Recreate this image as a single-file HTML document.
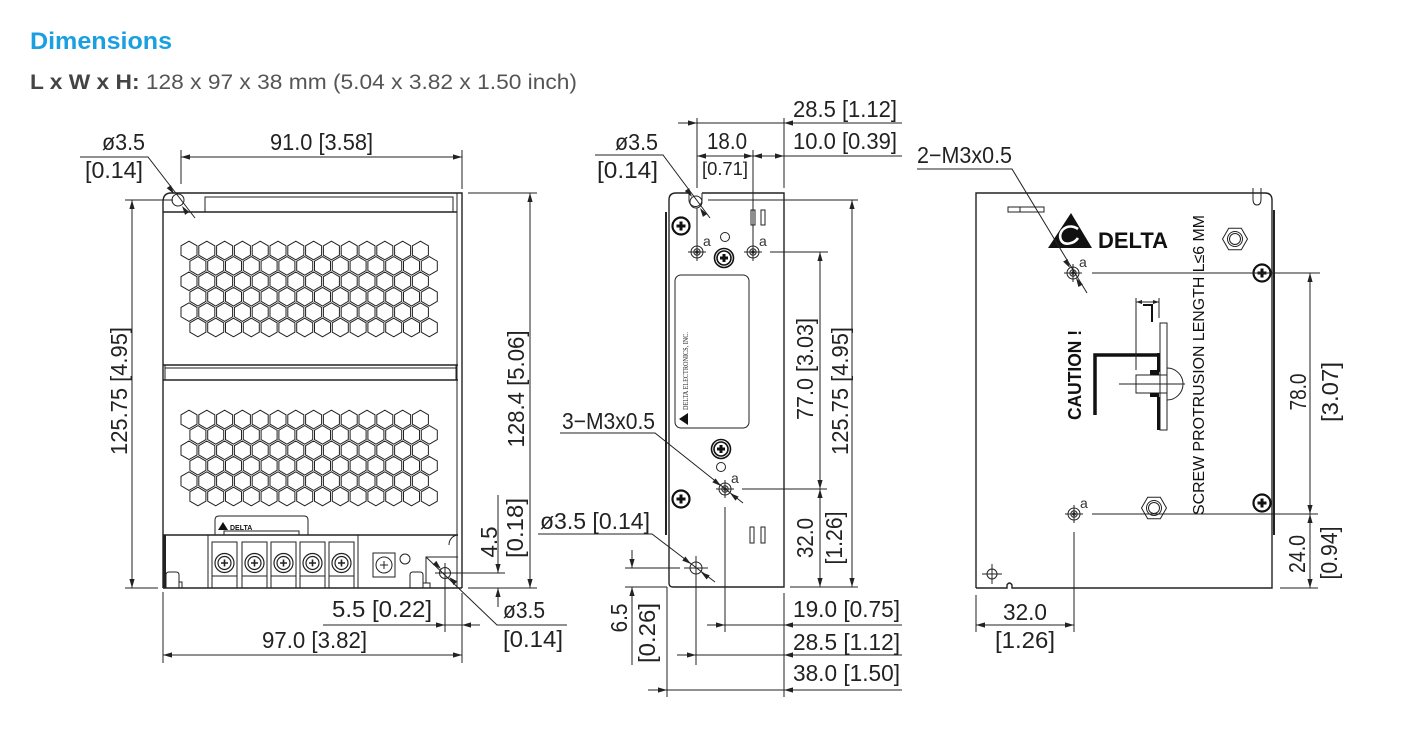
<!DOCTYPE html>
<html><head><meta charset="utf-8"><style>
html,body{margin:0;padding:0;background:#fff;width:1421px;height:743px;overflow:hidden}
svg{display:block}
.t{font-family:"Liberation Sans",sans-serif;font-size:23px;fill:#222}
.l{stroke:#222;stroke-width:1;fill:none}
.o{stroke:#222;stroke-width:1.4;fill:none}
.k{stroke:#111;stroke-width:3.5;fill:none}
</style></head><body>
<svg width="1421" height="743" viewBox="0 0 1421 743" xmlns="http://www.w3.org/2000/svg">
<defs>
<path id="hr" fill="none" stroke="#222" stroke-width="1" d="M0,-9.3l8,4.65v9.3l-8,4.65l-8,-4.65v-9.3zm17.8,0l8,4.65v9.3l-8,4.65l-8,-4.65v-9.3zm17.8,0l8,4.65v9.3l-8,4.65l-8,-4.65v-9.3zm17.8,0l8,4.65v9.3l-8,4.65l-8,-4.65v-9.3zm17.8,0l8,4.65v9.3l-8,4.65l-8,-4.65v-9.3zm17.8,0l8,4.65v9.3l-8,4.65l-8,-4.65v-9.3zm17.8,0l8,4.65v9.3l-8,4.65l-8,-4.65v-9.3zm17.8,0l8,4.65v9.3l-8,4.65l-8,-4.65v-9.3zm17.8,0l8,4.65v9.3l-8,4.65l-8,-4.65v-9.3zm17.8,0l8,4.65v9.3l-8,4.65l-8,-4.65v-9.3zm17.8,0l8,4.65v9.3l-8,4.65l-8,-4.65v-9.3zm17.8,0l8,4.65v9.3l-8,4.65l-8,-4.65v-9.3zm17.8,0l8,4.65v9.3l-8,4.65l-8,-4.65v-9.3zm17.8,0l8,4.65v9.3l-8,4.65l-8,-4.65v-9.3z"/>
<g id="sc"><circle r="8.5" fill="#fff" stroke="#111" stroke-width="2.2"/><path d="M-4.5,0H4.5M0,-4.5V4.5" stroke="#111" stroke-width="3"/></g>
<g id="sc2"><circle r="9.5" fill="#fff" stroke="#111" stroke-width="1.6"/><circle r="7" fill="none" stroke="#111" stroke-width="1.6"/><path d="M-4,0H4M0,-4V4" stroke="#111" stroke-width="3"/></g>
<g id="th" fill="none" stroke="#222" stroke-width="1"><circle r="6"/><circle r="3.2"/><circle r="1.3"/><path d="M-9,0H9M0,-9V9"/></g>
<g id="ts" fill="none" stroke="#222"><circle r="9.5" stroke-width="1.2"/><circle r="6.5" stroke-width="1.2"/><path d="M-3.5,0H3.5M0,-3.5V3.5" stroke-width="1.6"/></g>
<path id="ar" d="M0,0L-9,-2.6L-9,2.6Z" fill="#222"/>
<path id="as" d="M0,0L-6,-2L-6,2Z" fill="#222"/>
</defs>

<!-- Header -->
<text x="30" y="49" style="font-family:'Liberation Sans',sans-serif;font-size:24px;font-weight:bold;fill:#1a9fe0" textLength="142" lengthAdjust="spacingAndGlyphs">Dimensions</text>
<text x="30" y="89" style="font-family:'Liberation Sans',sans-serif;font-size:21px;fill:#555" textLength="547" lengthAdjust="spacingAndGlyphs"><tspan style="font-weight:bold;fill:#444">L x W x H:</tspan> 128 x 97 x 38 mm (5.04 x 3.82 x 1.50 inch)</text>

<!-- ============ LEFT VIEW ============ -->
<g>
<path class="o" d="M163,588 V202 Q163,193 171,193 H462 V588"/>
<path class="l" d="M457,193 V588"/>
<path class="l" d="M205,212 V197 H453 V212"/>
<path class="o" d="M163,212 H457"/>
<circle cx="178" cy="200" r="6" class="l" fill="#fff"/>
<path class="o" d="M163,365 H458"/>
<path class="l" d="M165,368 H456 M165,365 V380 M456,365 V380"/>
<path class="o" d="M163,380 H458"/>
<use href="#hr" x="189" y="250.5"/>
<use href="#hr" x="197.9" y="265.9"/>
<use href="#hr" x="189" y="281.3"/>
<use href="#hr" x="197.9" y="296.7"/>
<use href="#hr" x="189" y="312.1"/>
<use href="#hr" x="197.9" y="327.5"/>
<use href="#hr" x="189" y="419.5"/>
<use href="#hr" x="197.9" y="434.9"/>
<use href="#hr" x="189" y="450.3"/>
<use href="#hr" x="197.9" y="465.7"/>
<use href="#hr" x="189" y="481.1"/>
<use href="#hr" x="197.9" y="496.5"/>
<path class="o" d="M163,535 H458"/>
<rect x="163" y="535" width="3" height="53" fill="#222"/>
<path class="o" d="M163,588 H462"/>
<path class="l" d="M215,535 V520 Q215,516 219,516 H304 Q308,516 308,520 V535"/>
<rect x="224" y="531" width="75" height="4" class="l"/>
<polygon points="218,530 228,530 223,522" fill="#111"/>
<text x="230" y="530" style="font-family:'Liberation Sans',sans-serif;font-size:7px;font-weight:bold;fill:#111">DELTA</text>
<rect x="208" y="535" width="150" height="53" class="l"/>
<g class="l">
<rect x="212" y="542" width="25" height="46"/><rect x="242" y="542" width="25" height="46"/><rect x="271" y="542" width="25" height="46"/><rect x="300" y="542" width="25" height="46"/><rect x="329" y="542" width="25" height="46"/>
<path d="M212,576 H237 M242,576 H267 M271,576 H296 M300,576 H325 M329,576 H354"/>
</g>
<use href="#ts" x="224.5" y="563"/><use href="#ts" x="254.5" y="563"/><use href="#ts" x="283.5" y="563"/><use href="#ts" x="312.5" y="563"/><use href="#ts" x="341.5" y="563"/>
<rect x="373" y="553" width="22" height="24" class="l"/>
<circle cx="384" cy="565" r="8" class="l"/>
<path class="l" d="M380,565 H388 M384,561 V569"/>
<circle cx="405" cy="559" r="5" class="l" stroke-width="1.4"/>
<path class="l" d="M166,588 V575 Q166,572 169,572 H176 Q179,572 179,575 V588 M179,582 H182 V588"/>
<path class="l" d="M410,588 V575 Q410,572 413,572 H420 Q423,572 423,575 V588 M423,583 H426"/>
<path class="l" d="M449,545 A10,10 0 0 1 457,535"/>
<path class="l" d="M458,557 H426 V583 H430 V588"/>
<circle cx="445" cy="573" r="5.5" class="l"/>
<path class="l" d="M435,573 H453 M445,563 V583"/>
</g>

<g class="l">
<path d="M181,150 V184 M462,150 V189"/>
<path d="M181,157 H462"/>
<path d="M80,157 H148 L195,218"/>
<path d="M125,200 H173 M125,588 H158"/>
<path d="M132,200 V588"/>
<path d="M468,193 H537 M468,588 H537"/>
<path d="M530,193 V588"/>
<path d="M453,573 H505"/>
<path d="M498,495 V573 M498,588 V607"/>
<path d="M445,583 V632 M462,593 V663 M163,592 V663"/>
<path d="M323,625 H480"/>
<path d="M163,655 H462"/>
<path d="M426,557 L497,625 H567"/>
</g>
<use href="#ar" transform="translate(181,157) rotate(180)"/>
<use href="#ar" transform="translate(462,157)"/>
<use href="#ar" transform="translate(174,194) rotate(55)"/>
<use href="#ar" transform="translate(182,206) rotate(235)"/>
<use href="#ar" transform="translate(132,200) rotate(-90)"/>
<use href="#ar" transform="translate(132,588) rotate(90)"/>
<use href="#ar" transform="translate(530,193) rotate(-90)"/>
<use href="#ar" transform="translate(530,588) rotate(90)"/>
<use href="#ar" transform="translate(498,573) rotate(90)"/>
<use href="#ar" transform="translate(498,588) rotate(-90)"/>
<use href="#ar" transform="translate(445,625)"/>
<use href="#ar" transform="translate(462,625) rotate(180)"/>
<use href="#ar" transform="translate(163,655) rotate(180)"/>
<use href="#ar" transform="translate(462,655)"/>
<use href="#ar" transform="translate(441,569) rotate(44)"/>
<use href="#ar" transform="translate(449,577) rotate(224)"/>

<g class="t">
<text x="102" y="150" textLength="43" lengthAdjust="spacingAndGlyphs">ø3.5</text>
<text x="85" y="178" textLength="58" lengthAdjust="spacingAndGlyphs">[0.14]</text>
<text x="270" y="150" textLength="103" lengthAdjust="spacingAndGlyphs">91.0 [3.58]</text>
<text transform="translate(127,391) rotate(-90)" text-anchor="middle" textLength="128" lengthAdjust="spacingAndGlyphs">125.75 [4.95]</text>
<text transform="translate(524,389) rotate(-90)" text-anchor="middle" textLength="117" lengthAdjust="spacingAndGlyphs">128.4 [5.06]</text>
<text transform="translate(497,542) rotate(-90)" text-anchor="middle" textLength="31" lengthAdjust="spacingAndGlyphs">4.5</text>
<text transform="translate(523,528) rotate(-90)" text-anchor="middle" textLength="60" lengthAdjust="spacingAndGlyphs">[0.18]</text>
<text x="332" y="617" textLength="100" lengthAdjust="spacingAndGlyphs">5.5 [0.22]</text>
<text x="262" y="648" textLength="105" lengthAdjust="spacingAndGlyphs">97.0 [3.82]</text>
<text x="503" y="618" textLength="42" lengthAdjust="spacingAndGlyphs">ø3.5</text>
<text x="503" y="647" textLength="60" lengthAdjust="spacingAndGlyphs">[0.14]</text>
</g>

<!-- ============ MIDDLE VIEW ============ -->
<g>
<path class="o" d="M669,200 V583 Q669,587 673,587 H784 V193 H702"/>
<path class="o" d="M689,193 H676 Q669,193 669,200"/>
<path class="l" d="M689,193 V200 A6,6 0 0 0 702,200 V193"/>
<circle cx="696" cy="202" r="6" class="l"/>
<rect x="665" y="212" width="2" height="323" fill="#222"/>
<rect x="675" y="275" width="74" height="153" rx="6" class="l"/>
<text transform="translate(688,410) rotate(-90)" textLength="78" lengthAdjust="spacingAndGlyphs" style="font-family:'Liberation Serif',serif;font-size:7px;fill:#222">DELTA ELECTRONICS, INC.</text>
<polygon points="679,419 688,413 688,425" fill="#111"/>
<rect x="751" y="210" width="4" height="15" class="l"/><rect x="761" y="210" width="4" height="15" class="l"/>
<rect x="750" y="527" width="4" height="16" class="l"/><rect x="761" y="527" width="4" height="16" class="l"/>
<use href="#sc" x="681" y="226"/>
<use href="#sc2" x="724" y="258"/>
<circle cx="725" cy="237" r="4.5" class="l" stroke-width="1.4"/>
<use href="#th" x="697" y="252"/>
<use href="#th" x="753" y="252"/>
<use href="#sc2" x="721" y="449"/>
<circle cx="721" cy="467" r="4.5" class="l" stroke-width="1.4"/>
<use href="#th" x="725" y="489"/>
<use href="#sc" x="681" y="499"/>
<circle cx="696" cy="568" r="6" class="l"/>
<path class="l" d="M684,568 H708 M696,556 V580"/>
</g>
<g style="font-family:'Liberation Sans',sans-serif;font-size:14px;fill:#333">
<text x="703" y="246">a</text><text x="759" y="246">a</text><text x="731" y="483">a</text>
</g>

<g class="l">
<path d="M678,123 H902"/>
<path d="M697,118 V188 M697,208 V243 M784,118 V188 M753,150 V243"/>
<path d="M697,156 H902"/>
<path d="M595,155 H663 L710,218"/>
<path d="M770,252 H828 M742,489 H827"/>
<path d="M820,252 V587"/>
<path d="M708,200 H858 M790,587 H858"/>
<path d="M852,200 V587"/>
<path d="M560,433 H655 L743,503"/>
<path d="M538,534 H652 L715,582"/>
<path d="M632,550 V568 M632,587 V665"/>
<path d="M625,568 H680 M625,587 H667"/>
<path d="M725,507 V632 M696,580 V665 M667,587 V697 M784,593 V697"/>
<path d="M707,625 H902 M677,655 H902 M648,690 H902"/>
</g>
<use href="#ar" transform="translate(697,123)"/>
<use href="#ar" transform="translate(784,123) rotate(180)"/>
<use href="#ar" transform="translate(697,156) rotate(180)"/>
<use href="#ar" transform="translate(753,156)"/>
<use href="#ar" transform="translate(753,156) rotate(180)"/>
<use href="#ar" transform="translate(784,156)"/>
<use href="#ar" transform="translate(692,197) rotate(56)"/>
<use href="#ar" transform="translate(700,208) rotate(236)"/>
<use href="#ar" transform="translate(820,252) rotate(-90)"/>
<use href="#ar" transform="translate(820,489) rotate(90)"/>
<use href="#ar" transform="translate(820,489) rotate(-90)"/>
<use href="#ar" transform="translate(820,587) rotate(90)"/>
<use href="#ar" transform="translate(852,200) rotate(-90)"/>
<use href="#ar" transform="translate(852,587) rotate(90)"/>
<use href="#ar" transform="translate(721,486) rotate(38.5)"/>
<use href="#ar" transform="translate(730,493) rotate(218.5)"/>
<use href="#ar" transform="translate(691,564) rotate(37)"/>
<use href="#ar" transform="translate(701,572) rotate(217)"/>
<use href="#ar" transform="translate(632,568) rotate(90)"/>
<use href="#ar" transform="translate(632,587) rotate(-90)"/>
<use href="#ar" transform="translate(725,625)"/>
<use href="#ar" transform="translate(784,625) rotate(180)"/>
<use href="#ar" transform="translate(696,655)"/>
<use href="#ar" transform="translate(784,655) rotate(180)"/>
<use href="#ar" transform="translate(667,690)"/>
<use href="#ar" transform="translate(784,690) rotate(180)"/>

<g class="t">
<text x="793" y="117" textLength="104" lengthAdjust="spacingAndGlyphs">28.5 [1.12]</text>
<text x="793" y="149" textLength="104" lengthAdjust="spacingAndGlyphs">10.0 [0.39]</text>
<text x="707" y="149" textLength="40" lengthAdjust="spacingAndGlyphs">18.0</text>
<text x="702" y="175" textLength="46" lengthAdjust="spacingAndGlyphs" style="font-size:18px">[0.71]</text>
<text x="615" y="150" textLength="43" lengthAdjust="spacingAndGlyphs">ø3.5</text>
<text x="597" y="178" textLength="61" lengthAdjust="spacingAndGlyphs">[0.14]</text>
<text transform="translate(813,369) rotate(-90)" text-anchor="middle" textLength="102" lengthAdjust="spacingAndGlyphs">77.0 [3.03]</text>
<text transform="translate(848,391) rotate(-90)" text-anchor="middle" textLength="128" lengthAdjust="spacingAndGlyphs">125.75 [4.95]</text>
<text transform="translate(813,538) rotate(-90)" text-anchor="middle" textLength="40" lengthAdjust="spacingAndGlyphs">32.0</text>
<text transform="translate(842,538) rotate(-90)" text-anchor="middle" textLength="53" lengthAdjust="spacingAndGlyphs">[1.26]</text>
<text x="562" y="429" textLength="93" lengthAdjust="spacingAndGlyphs">3−M3x0.5</text>
<text x="540" y="529" textLength="110" lengthAdjust="spacingAndGlyphs">ø3.5 [0.14]</text>
<text transform="translate(627,618) rotate(-90)" text-anchor="middle" textLength="29" lengthAdjust="spacingAndGlyphs">6.5</text>
<text transform="translate(655,633) rotate(-90)" text-anchor="middle" textLength="60" lengthAdjust="spacingAndGlyphs">[0.26]</text>
<text x="793" y="617" textLength="107" lengthAdjust="spacingAndGlyphs">19.0 [0.75]</text>
<text x="793" y="650" textLength="107" lengthAdjust="spacingAndGlyphs">28.5 [1.12]</text>
<text x="793" y="681" textLength="107" lengthAdjust="spacingAndGlyphs">38.0 [1.50]</text>
</g>

<!-- ============ RIGHT VIEW ============ -->
<g>
<path class="o" d="M976,588 V193 H1265 Q1272,193 1272,200 V588 H1012 V585 Q1009.5,581 1007,585 V588 H976"/>
<rect x="1273" y="210" width="2" height="325" fill="#222"/>
<path class="l" d="M1253,188 V199 Q1253,205 1257,205 Q1261,205 1261,199 V188"/>
<rect x="1008" y="207" width="36" height="5" class="l"/>
<path class="l" d="M1020,207 V212"/>
<polygon points="1048,248 1092,248 1071,213" fill="#111"/>
<path d="M1078,229 C1068,222 1057,231 1061,240 C1064,246 1074,244 1078,238" stroke="#fff" stroke-width="2.6" fill="none"/>
<text x="1098" y="248" textLength="70" lengthAdjust="spacingAndGlyphs" style="font-family:'Liberation Sans',sans-serif;font-size:22px;font-weight:bold;fill:#111">DELTA</text>
<polygon points="1222.5,239 1228.7,228.2 1241.3,228.2 1247.5,239 1241.3,249.8 1228.7,249.8" class="l"/>
<circle cx="1235" cy="239" r="7.5" class="l"/><circle cx="1235" cy="239" r="5.5" class="l"/>
<polygon points="1141.5,508 1147.7,497.2 1160.3,497.2 1166.5,508 1160.3,518.8 1147.7,518.8" class="l"/>
<circle cx="1154" cy="508" r="7.5" class="l"/><circle cx="1154" cy="508" r="5.5" class="l"/>
<use href="#sc" x="1262" y="273"/>
<use href="#sc" x="1262" y="503"/>
<use href="#th" x="1073" y="273"/>
<use href="#th" x="1074" y="514"/>
<circle cx="992" cy="574" r="5" class="l"/>
<path class="l" d="M982,574 H1002 M992,564 V584"/>
<path class="k" d="M1095,415 V355 H1160"/>
<rect x="1160" y="323" width="7" height="107" class="l" fill="#fff"/>
<path d="M1158.5,353 V372 M1158.5,397 V430" stroke="#111" stroke-width="3" fill="none"/>
<rect x="1136" y="375" width="31" height="18" class="l" fill="#fff"/>
<rect x="1150" y="370" width="9" height="5" fill="#111"/>
<rect x="1150" y="393" width="9" height="4" fill="#111"/>
<path class="l" d="M1167,368 A16,16 0 0 1 1167,400"/>
<path class="l" d="M1119,384 H1185"/>
<path class="l" d="M1136,298 V370 M1159,298 V318 M1136,302 H1159"/>
<use href="#as" transform="translate(1136,302) rotate(180)"/>
<use href="#as" transform="translate(1159,302)"/>
<path d="M1143,305 H1152 V322" stroke="#111" stroke-width="2" fill="none"/>
</g>
<g style="font-family:'Liberation Sans',sans-serif;font-size:14px;fill:#333">
<text x="1079" y="267">a</text><text x="1080" y="508">a</text>
</g>
<text transform="translate(1081,375) rotate(-90)" text-anchor="middle" textLength="90" lengthAdjust="spacingAndGlyphs" style="font-family:'Liberation Sans',sans-serif;font-size:18px;font-weight:bold;fill:#111">CAUTION !</text>
<text transform="translate(1204,365) rotate(-90)" text-anchor="middle" textLength="300" lengthAdjust="spacingAndGlyphs" style="font-family:'Liberation Sans','DejaVu Sans',sans-serif;font-size:16px;fill:#111">SCREW PROTRUSION LENGTH  L≤6 MM</text>

<g class="l">
<path d="M917,169 H1012 L1087,293"/>
<path d="M1092,273 H1320 M1092,514 H1318 M1280,588 H1318"/>
<path d="M1310,273 V588"/>
<path d="M976,595 V632 M1074,532 V632"/>
<path d="M976,625 H1074"/>
</g>
<use href="#ar" transform="translate(1070,268) rotate(59)"/>
<use href="#ar" transform="translate(1076,278) rotate(239)"/>
<use href="#ar" transform="translate(1310,273) rotate(-90)"/>
<use href="#ar" transform="translate(1310,514) rotate(90)"/>
<use href="#ar" transform="translate(1310,514) rotate(-90)"/>
<use href="#ar" transform="translate(1310,588) rotate(90)"/>
<use href="#ar" transform="translate(976,625) rotate(180)"/>
<use href="#ar" transform="translate(1074,625)"/>

<g class="t">
<text x="917" y="163" textLength="95" lengthAdjust="spacingAndGlyphs">2−M3x0.5</text>
<text transform="translate(1306,392) rotate(-90)" text-anchor="middle" textLength="37" lengthAdjust="spacingAndGlyphs">78.0</text>
<text transform="translate(1338,392) rotate(-90)" text-anchor="middle" textLength="60" lengthAdjust="spacingAndGlyphs">[3.07]</text>
<text transform="translate(1305,554) rotate(-90)" text-anchor="middle" textLength="38" lengthAdjust="spacingAndGlyphs">24.0</text>
<text transform="translate(1337,553) rotate(-90)" text-anchor="middle" textLength="53" lengthAdjust="spacingAndGlyphs">[0.94]</text>
<text x="1003" y="620" textLength="44" lengthAdjust="spacingAndGlyphs">32.0</text>
<text x="995" y="648" textLength="60" lengthAdjust="spacingAndGlyphs">[1.26]</text>
</g>
</svg>
</body></html>
